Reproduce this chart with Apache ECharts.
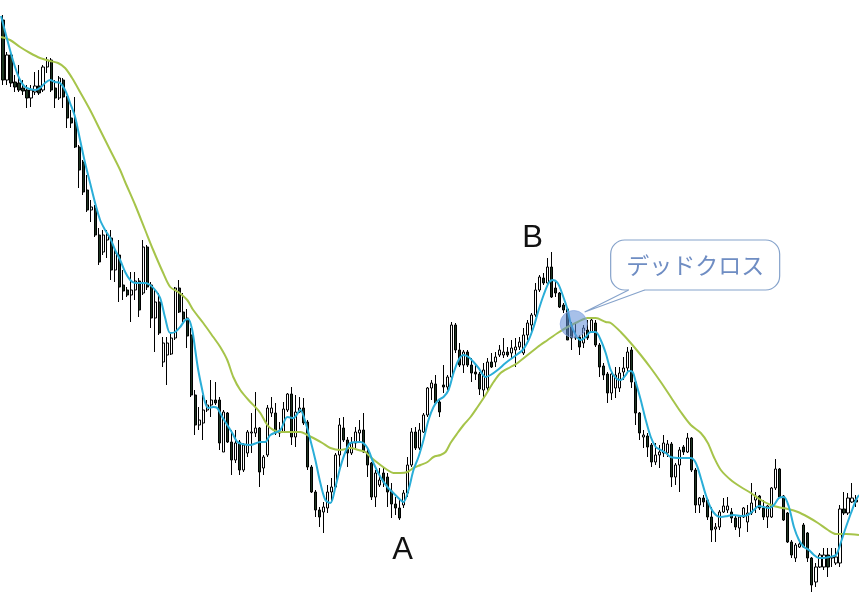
<!DOCTYPE html>
<html>
<head>
<meta charset="utf-8">
<script src="https://cdn.jsdelivr.net/npm/echarts@6/dist/echarts.min.js"></script>
<style>
html,body{margin:0;padding:0;background:#fff;}
#chart{width:860px;height:600px;}
</style>
</head>
<body>
<div id="chart"></div>
<script>
// candles: [open, close, low, high]
const candles = [
[580,520,515,585],[520,545,515,548],[545,517,513,546],[518,513,508,525],[517,510,508,535],
[512,509,505,520],[510,502,492,515],[502,510,493,515],[508,514,505,528],[514,507,505,530],
[510,533,508,535],[533,540,527,543],[540,510,508,542],[512,502,492,520],[502,522,500,524],
[520,503,492,522],[503,482,472,504],[482,477,472,490],[478,453,452,503],[453,430,412,455],
[438,408,405,440],[410,390,388,425],[390,393,378,400],[392,365,363,395],[365,338,335,372],
[348,365,345,370],[360,365,342,370],[362,330,320,370],[330,347,318,350],[345,313,298,360],
[315,309,300,330],[310,305,303,313],[305,310,278,328],[310,319,300,328],[319,290,283,322],
[307,353,305,360],[353,313,310,355],[315,282,272,318],[282,298,248,310],[298,267,265,307],
[238,257,233,263],[245,257,215,263],[246,262,245,267],[262,312,260,313],[312,288,287,320],
[288,281,278,307],[282,264,252,291],[265,205,203,272],[205,175,165,210],[175,180,170,193],
[177,190,160,205],[190,195,188,200],[195,200,183,220],[200,197,195,218],[200,157,150,203],
[148,188,148,190],[187,158,157,188],[158,140,125,170],[140,157,137,170],[158,130,125,160],
[130,155,128,157],[147,168,143,170],[167,168,147,187],[167,172,163,208],[172,128,113,173],
[132,143,125,145],[145,192,143,195],[187,192,183,203],[187,167,165,197],[168,167,163,178],
[168,191,167,198],[190,206,188,207],[206,163,155,213],[163,188,153,205],[188,192,187,203],
[192,177,175,202],[178,133,130,180],[133,108,107,135],[108,90,83,110],[90,83,73,93],
[88,93,67,98],[92,108,87,115],[108,113,97,122],[113,145,112,147],[145,175,133,182],
[172,160,158,183],[160,147,133,163],[147,157,145,163],[157,168,152,173],[167,170,157,180],
[170,148,147,187],[148,135,123,153],[137,103,100,138],[103,127,93,130],[115,120,113,132],
[127,118,113,133],[123,108,93,127],[109,96,82,117],[96,92,85,103],[92,82,80,100],
[95,107,92,110],[107,135,103,143],[135,168,133,172],[168,152,150,173],[152,170,150,177],
[168,185,167,187],[185,212,183,213],[212,217,200,220],[216,197,195,225],[198,188,183,200],
[215,213,207,235],[213,223,210,225],[223,275,222,278],[275,250,247,277],[250,235,233,257],
[235,248,227,250],[248,235,233,250],[235,227,218,242],[228,226,220,237],[226,211,205,228],
[210,230,203,237],[212,238,207,242],[238,233,232,247],[238,243,233,248],[245,250,243,255],
[245,248,242,262],[248,245,243,253],[247,252,242,260],[250,253,233,262],[253,258,250,263],
[247,265,245,272],[265,277,260,280],[275,285,268,287],[285,310,283,317],[310,323,308,325],
[322,317,315,327],[317,333,315,342],[333,303,302,348],[312,307,303,318],[307,293,292,308],
[295,290,287,297],[291,260,260,292],[275,262,250,278],[263,262,260,277],[263,253,245,265],
[257,272,252,275],[270,262,260,280],[268,280,267,283],[277,255,253,280],[255,233,223,257],
[234,225,220,237],[226,207,197,228],[207,226,200,228],[212,225,202,233],[212,227,208,233],
[228,232,220,243],[232,248,228,253],[250,218,212,253],[218,187,175,220],[187,167,160,188],
[163,165,152,170],[164,153,143,167],[155,138,133,157],[138,145,135,157],[145,148,132,155],
[147,157,143,165],[147,156,143,160],[156,123,113,158],[123,135,115,137],[135,150,108,153],
[153,148,145,155],[148,162,147,167],[162,130,128,163],[130,95,87,132],[95,102,87,103],
[102,98,93,105],[100,83,80,102],[83,70,58,93],[71,73,58,77],[73,88,70,90],
[88,94,87,102],[90,94,87,103],[88,82,77,92],[82,73,70,85],[72,83,63,85],
[83,92,82,93],[78,87,68,95],[87,97,85,117],[100,104,87,108],[104,92,90,105],
[92,83,80,100],[83,94,72,95],[83,112,82,113],[112,131,110,141],[131,103,102,132],
[104,80,79,105],[87,58,57,88],[58,45,42,60],[42,55,38,57],[53,56,52,58],
[75,53,52,77],[67,42,38,68],[42,15,8,43],[18,33,13,37],[33,45,32,47],
[33,45,30,52],[45,33,23,52],[42,43,33,52],[37,43,35,52],[37,91,33,95],
[91,87,85,108],[87,102,85,107],[98,102,97,117],[100,98,93,105]
];

// short moving average: [bar index, value]
const maShort = [
[-0.5,584],[1.75,550],[3,533],[4.25,520],[5.5,513],[6.75,511],[8,510],[9.25,512],[10.5,517],
[11.75,520],[13,518],[14.25,517],[15.5,510],[16.75,497],[18,483],[19.25,460],[20.5,437],
[21.75,417],[23,397],[24.25,380],[25.5,370],[26.75,362],[28,350],[29.25,340],[30.5,328],
[31.75,320],[33,317],[35.5,317],[36.75,315],[38,310],[39.25,302],[40.5,282],[41.75,267],
[43,268],[44.25,273],[45.5,280],[46.25,281],[47.25,270],[48,250],[48.75,230],[49.75,210],
[50.5,197],[51.25,192],[52.5,193],[53.5,192],[54.75,183],[56,175],[57.25,167],[58.5,158],
[59.75,156],[61.75,155],[64.25,158],[65.5,158],[66.75,165],[69.25,170],[71,183],[72.5,182],
[74.25,190],[75.5,178],[76.75,160],[78,140],[79.25,117],[80.5,100],[81.75,97],[83,113],
[84.25,133],[85.5,148],[86.75,157],[89.25,158],[91,152],[92.5,137],[94.25,123],[96,113],
[97.5,107],[99.25,100],[100,98],[101.25,110],[102.5,130],[103.75,143],[105,160],[106.25,180],
[107.5,193],[108.75,200],[110,203],[111.25,210],[112.5,227],[113.75,240],[115,245],[116.25,243],
[117.5,238],[118.75,232],[120.5,223],[121.75,225],[123.5,230],[125.5,237],[127.5,243],
[129.75,250],[131.25,260],[132.5,273],[133.75,290],[135,305],[136.25,317],[137.25,320],
[138.5,317],[139.75,305],[141,290],[141.75,277],[143,265],[144.25,260],[145.5,263],
[146.75,268],[148,268],[149.25,260],[150.5,247],[151.75,230],[153,222],[154.25,220],
[155.5,225],[156.25,229],[157.25,228],[158,218],[159.25,200],[160.5,180],[161.75,163],
[163,153],[164.25,150],[165.5,147],[166.75,143],[169.25,142],[171.75,142],[173,137],
[174.25,122],[175.5,105],[176.75,92],[178,85],[179.25,83],[181,84],[182.5,85],[184.25,84],
[186,85],[187.5,90],[188.75,94],[190,93],[191.25,92],[192.5,95],[193.75,102],[195,103],
[196.25,93],[197.5,73],[198.75,60],[200,53],[201.25,50],[202.5,45],[203.75,42],[205,42],
[206.25,43],[208,45],[209.25,58],[210.5,73],[211.75,87],[213,100],[213.75,105]
];

// long moving average: [bar index, value]
const maLong = [
[-0.5,563],[1.75,560],[4.25,553],[6.75,547],[9.25,542],[11.75,539],[13.75,537],[15.5,532],
[17.25,522],[19.25,508],[21.75,490],[24.25,470],[26.75,450],[29.25,430],[30.5,418],[33,395],
[35.5,370],[37.5,350],[40,327],[41.75,313],[43.75,308],[46,300],[47.5,290],[50,277],
[52.5,263],[54.25,253],[56,240],[57.5,223],[59.25,210],[61.75,198],[63,193],[64.25,187],
[66,175],[67.5,170],[69.25,168],[74.25,168],[76,165],[77.5,162],[79.75,157],[81.75,152],
[84.25,150],[86.75,152],[88.75,150],[90.5,148],[91.75,143],[94.25,135],[96,130],[97.5,127],
[99.25,127],[101,128],[102.5,132],[104.25,135],[106,138],[107.5,143],[109.25,145],[110.5,148],
[111.75,157],[113.5,167],[115,175],[116.75,183],[118.5,193],[120.5,205],[122.5,218],
[124.25,227],[126.75,233],[128.5,237],[131,245],[133.5,253],[136,260],[138.5,267],[141,273],
[143.5,278],[146,282],[148,282],[150.5,278],[151.75,277],[154.25,268],[156.75,257],
[159.25,245],[161.75,232],[164.25,218],[166.75,203],[169.25,188],[171.75,175],[174.25,167],
[176,157],[177.5,143],[179.25,130],[181.75,120],[184.25,113],[186.75,107],[189.25,100],
[191.75,95],[193.5,93],[196,91],[198.5,88],[201,83],[203.5,77],[206,70],[208,66],
[210.5,66],[213.75,65]
];

const categories = candles.map((c, i) => String(i + 1));
const pointLabels = [
  { name: 'A', coord: [99.75, 50] },
  { name: 'B', coord: [132.25, 362] }
];
const crossPoint = [142.5, 276];
const calloutText = 'デッドクロス';

const chart = echarts.init(document.getElementById('chart'), null, { renderer: 'canvas' });

chart.setOption({
  animation: false,
  backgroundColor: '#ffffff',
  grid: { left: 1, right: 2, top: 0, bottom: 0 },
  xAxis: [
    { type: 'category', data: categories, boundaryGap: true, show: false },
    { type: 'value', min: -0.5, max: categories.length - 0.5, show: false }
  ],
  yAxis: [{ type: 'value', min: 0, max: 600, show: false, splitLine: { show: false } }],
  series: [
    {
      type: 'candlestick',
      xAxisIndex: 0,
      data: candles,
      barWidth: 2.6,
      itemStyle: {
        color: '#ffffff',
        color0: '#1d3521',
        borderColor: '#000000',
        borderColor0: '#000000',
        borderWidth: 1
      }
    },
    {
      type: 'line',
      xAxisIndex: 1,
      data: maLong,
      smooth: 0.3,
      symbol: 'none',
      lineStyle: { color: '#a6c44a', width: 2 },
      markPoint: {
        symbol: 'rect',
        symbolSize: 1,
        itemStyle: { color: 'rgba(0,0,0,0)' },
        label: {
          show: true,
          position: 'inside',
          formatter: '{b}',
          fontSize: 31,
          color: '#111111',
          fontFamily: 'Liberation Sans, Arial, sans-serif'
        },
        data: pointLabels
      }
    },
    {
      type: 'line',
      xAxisIndex: 1,
      data: maShort,
      smooth: 0.3,
      symbol: 'none',
      lineStyle: { color: '#2aaed8', width: 2 },
      markPoint: {
        symbol: 'circle',
        symbolSize: 27,
        itemStyle: { color: 'rgba(95,140,215,0.55)', borderColor: 'rgba(140,170,225,0.8)', borderWidth: 1 },
        label: { show: false },
        data: [{ coord: crossPoint }]
      }
    }
  ]
});

// speech-bubble callout anchored to the cross point
const p = chart.convertToPixel({ xAxisIndex: 1, yAxisIndex: 0 }, crossPoint);
const tipX = p[0] + 11, tipY = p[1] - 12;
const x0 = p[0] + 37, y0 = p[1] - 84, x1 = p[0] + 206, y1 = p[1] - 34;
const b1 = x0 + 18, b2 = x0 + 34;
const bubbleStroke = '#86a3cb';

chart.setOption({
  graphic: [
    {
      type: 'rect',
      shape: { x: x0, y: y0, width: x1 - x0, height: y1 - y0, r: 14 },
      style: { fill: '#ffffff', stroke: bubbleStroke, lineWidth: 1.2 },
      z: 100
    },
    {
      type: 'polygon',
      shape: { points: [[b1 + 0.8, y1 - 1.5], [b2 - 0.8, y1 - 1.5], [b2, y1], [tipX, tipY], [b1, y1]] },
      style: { fill: '#ffffff', stroke: null },
      z: 101
    },
    {
      type: 'polyline',
      shape: { points: [[b1, y1], [tipX, tipY], [b2, y1]] },
      style: { fill: null, stroke: bubbleStroke, lineWidth: 1.2 },
      z: 102
    },
    {
      type: 'text',
      x: (x0 + x1) / 2,
      y: (y0 + y1) / 2,
      style: {
        text: calloutText,
        fill: '#6f8dc3',
        fontSize: 23,
        fontFamily: 'Noto Sans CJK JP, sans-serif',
        align: 'center',
        verticalAlign: 'middle'
      },
      z: 103
    }
  ]
});
</script>
</body>
</html>
